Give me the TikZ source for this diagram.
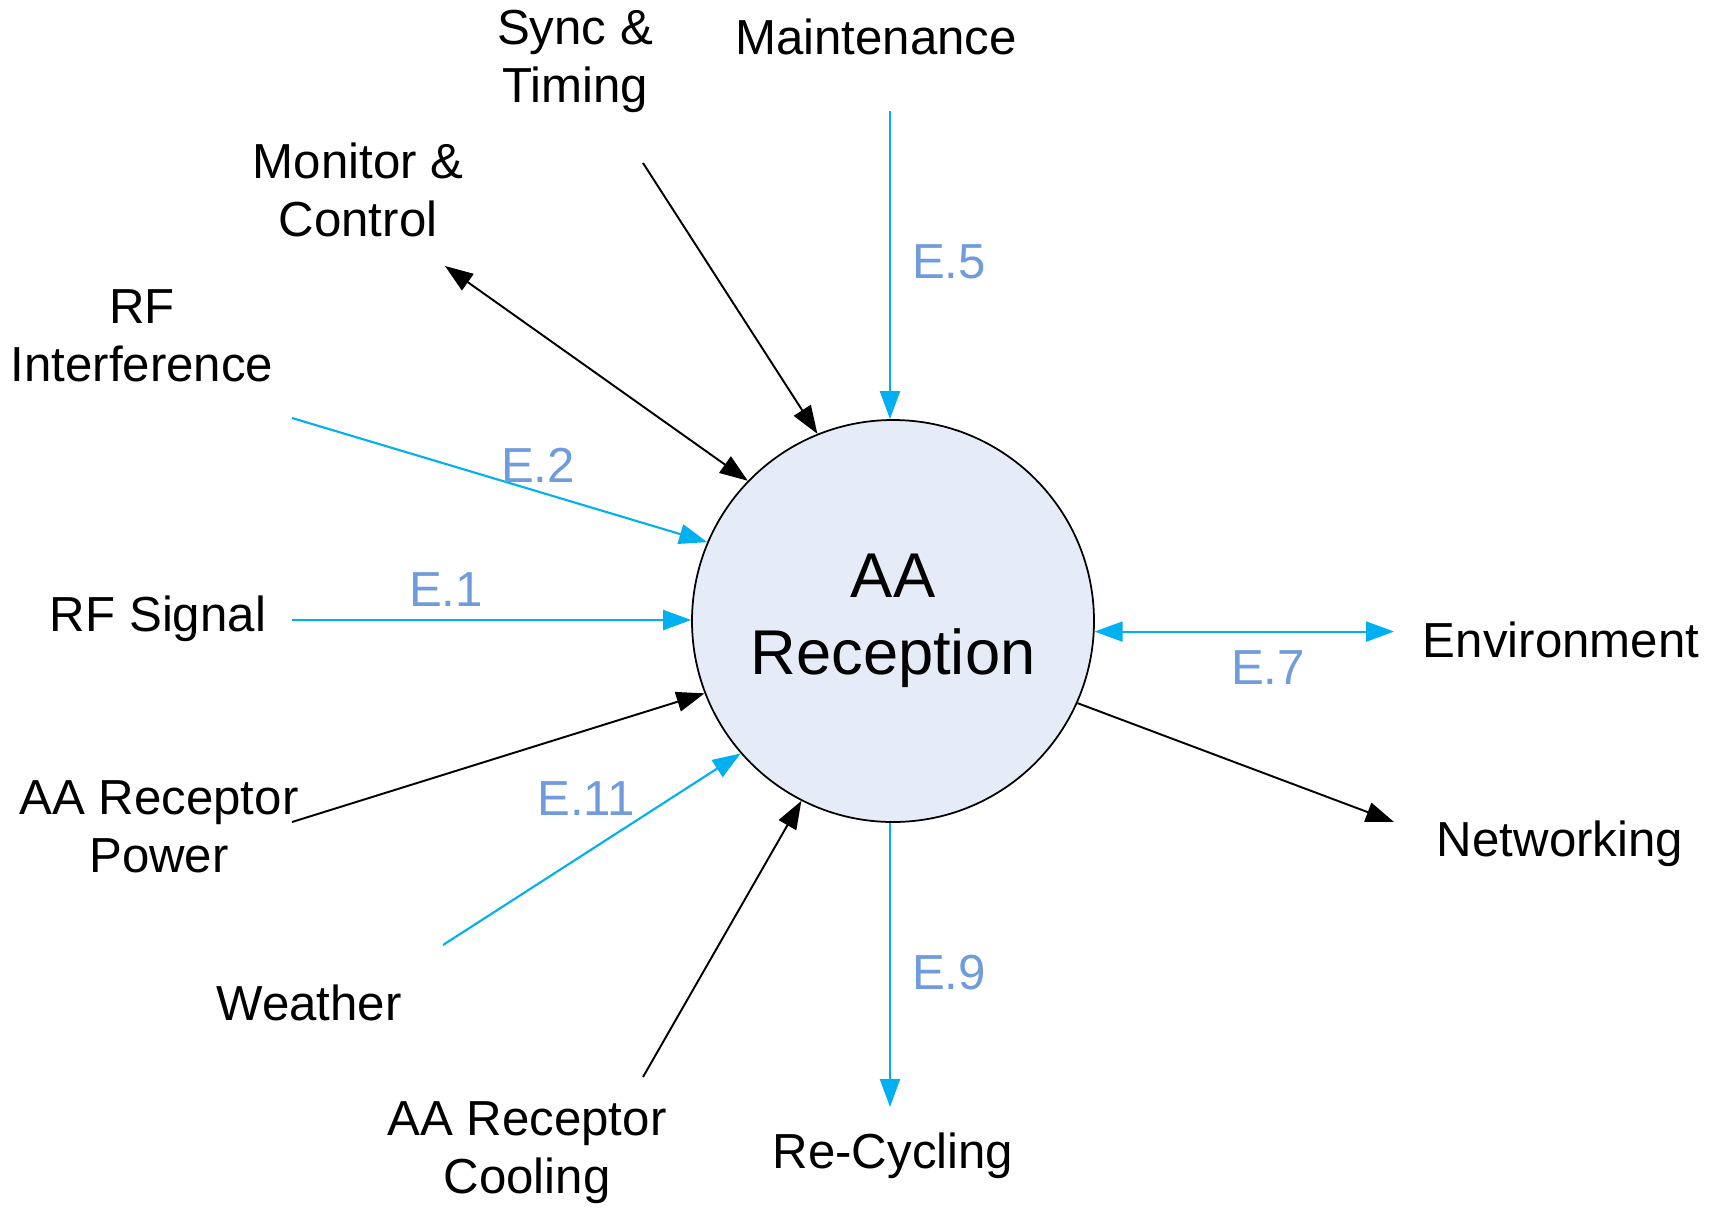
\documentclass[tikz,border=0pt]{standalone}
\usepackage{fontspec}
\setmainfont{Liberation Sans}
\usetikzlibrary{arrows.meta}
\definecolor{flowcyan}{RGB}{0,176,240}
\definecolor{elabel}{RGB}{112,155,220}
\definecolor{bubble}{RGB}{230,236,247}
\def\blk{\draw[black,line width=0.55pt]}
\def\cyn{\draw[flowcyan,line width=0.6pt]}

\begin{document}
\begin{tikzpicture}[>={Triangle[length=2.8mm,width=2mm]},
        ext/.style={align=center,font=\fontsize{14}{16.5}\selectfont},
        elab/.style={text=elabel,font=\fontsize{14}{16.5}\selectfont}]
                \useasboundingbox (0,0) rectangle (17.24,12.11);
                \node[circle,draw,line width=0.5pt,fill=bubble,minimum size=4.02cm,inner sep=0,
                      align=center,font=\fontsize{18}{22}\selectfont] (rx) at (8.93,5.90) {AA\\Reception};
                % outside ends
                \coordinate (sig)  at (2.92,5.91);
                \coordinate (intf) at (2.92,7.93);
                \coordinate (mon)  at (4.45,9.45);
                \coordinate (sync) at (6.43,10.48);
                \coordinate (mnt)  at (8.90,11.00);
                \coordinate (env)  at (13.94,5.77);
                \coordinate (net)  at (13.94,3.89);
                \coordinate (rcy)  at (8.90,1.04);
                \coordinate (cool) at (6.43,1.34);
                \coordinate (wth)  at (4.43,2.66);
                \coordinate (pwr)  at (2.92,3.89);
                % labels
                \node[ext] (tsync) at (5.75,11.50) {Sync \&\\Timing};
                \node[ext] (tmnt)  at (8.76,11.74) {Maintenance};
                \node[ext] (tmon)  at (3.58,10.21) {Monitor \&\\Control};
                \node[ext] (tintf) at (1.42,8.75)  {RF\\Interference};
                \node[ext] (tsig)  at (1.58,5.92)  {RF Signal};
                \node[ext] (tpwr)  at (1.59,3.84)  {AA Receptor\\Power};
                \node[ext] (twth)  at (3.09,2.08)  {Weather};
                \node[ext] (tcool) at (5.27,0.58)  {AA Receptor\\Cooling};
                \node[ext] (trcy)  at (8.93,0.55)  {Re-Cycling};
                \node[ext] (tenv)  at (15.61,5.71) {Environment};
                \node[ext] (tnet)  at (15.60,3.67) {Networking};
                % flows
                \cyn[->] (sig) -- (rx.180 |- sig);
                \cyn[->] (intf) -- (rx.157.6);
                \blk[<->] (mon) -- (rx.136.8);
                \blk[->] (sync) -- (rx.112.7);
                \cyn[->] (mnt) -- (mnt |- rx.90.8);
                \cyn[<->] (rx.-3.7) -- (rx.-3.7 -| env);
                \blk[->] (rx.-24.7) -- (net);
                \cyn[->] (rcy |- rx.-90.8) -- (rcy);
                \blk[->] (cool) -- (rx.-117.5);
                \cyn[->] (wth) -- (rx.221.2);
                \blk[->] (pwr) -- (rx.201.3);
                % flow ids
                \node[elab] (e5)  at (9.49,9.49)  {E.5};
                \node[elab] (e2)  at (5.38,7.46)  {E.2};
                \node[elab] (e1)  at (4.46,6.21)  {E.1};
                \node[elab] (e7)  at (12.68,5.43) {E.7};
                \node[elab] (e11) at (5.86,4.12)  {E.11};
                \node[elab] (e9)  at (9.49,2.38)  {E.9};
            \end{tikzpicture}
\end{document}
